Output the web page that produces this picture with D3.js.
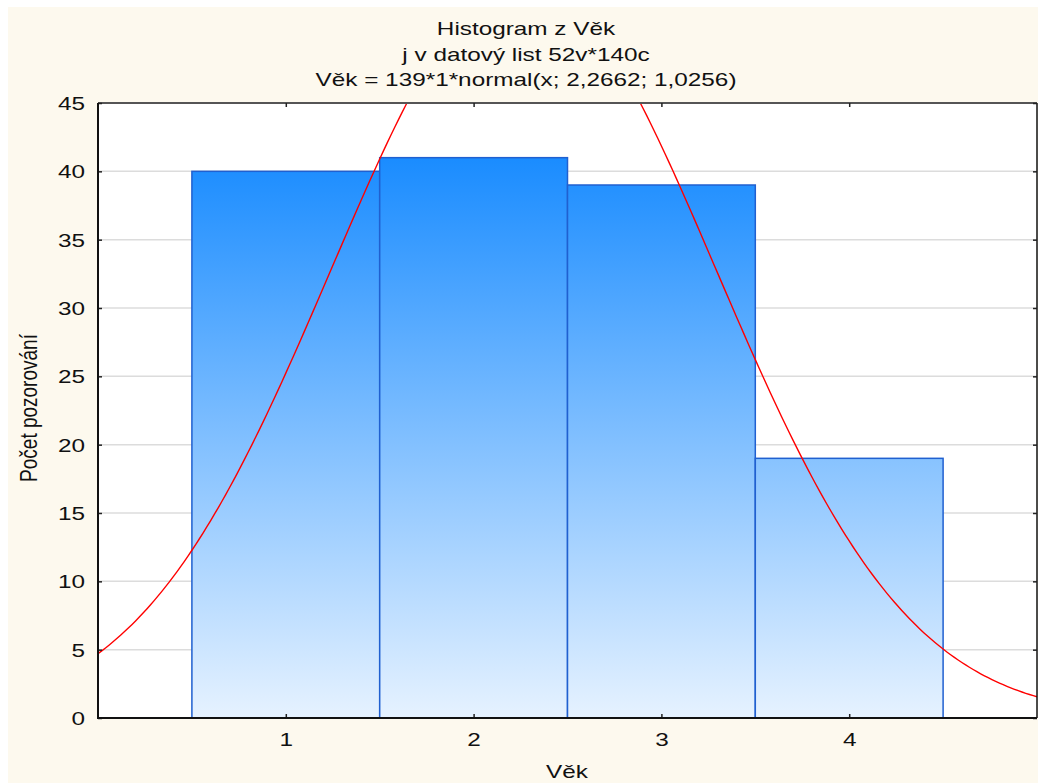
<!DOCTYPE html>
<html><head><meta charset="utf-8">
<script src="https://cdn.jsdelivr.net/npm/d3@7"></script>
<style>
html,body{margin:0;padding:0;background:#fff;}
svg{display:block;}
text{font-family:"Liberation Sans",Arial,sans-serif;fill:#111;}
</style></head>
<body>
<svg id="c" width="1038" height="783"></svg>
<script>
const categories = [1, 2, 3, 4];
const counts = [40, 41, 39, 19];
const xTicks = [1, 2, 3, 4];
const yTicks = [0, 5, 10, 15, 20, 25, 30, 35, 40, 45];
const fitN = 139, fitMean = 2.2662, fitSd = 1.0256;
const titleLines = ["Histogram z Věk", "j v datový list 52v*140c", "Věk = 139*1*normal(x; 2,2662; 1,0256)"];
const xLabel = "Věk", yLabel = "Počet pozorování";

const W = 1038, H = 783;
const L = 98, R = 1037, T = 103, B = 718;
const SX = 1.28, FS = 19;
const svg = d3.select("#c");
const x = d3.scaleLinear().domain([0, 5]).range([L, R]);
const y = d3.scaleLinear().domain([0, 45]).range([B, T]);

svg.append("rect").attr("x", 8).attr("y", 7).attr("width", W - 8).attr("height", H - 7).attr("fill", "#fdf9ee");
svg.append("rect").attr("x", L).attr("y", T).attr("width", R - L).attr("height", B - T).attr("fill", "#fff");

const defs = svg.append("defs");
const g = defs.append("linearGradient").attr("id", "bg").attr("gradientUnits", "userSpaceOnUse")
  .attr("x1", 0).attr("x2", 0).attr("y1", y(41)).attr("y2", y(0));
g.append("stop").attr("offset", 0).attr("stop-color", "#1a8cff");
g.append("stop").attr("offset", 1).attr("stop-color", "#e6f2ff");
defs.append("clipPath").attr("id", "pc").append("rect").attr("x", L).attr("y", T).attr("width", R - L).attr("height", B - T);

// grid
svg.append("g").selectAll("line").data(yTicks.filter(d => d > 0 && d < 45)).join("line")
  .attr("x1", L).attr("x2", R).attr("y1", d => y(d)).attr("y2", d => y(d))
  .attr("stroke", "#dcdcdc").attr("stroke-width", 1.5);

// bars
svg.append("g").selectAll("rect").data(categories).join("rect")
  .attr("x", (d) => x(d - 0.5)).attr("width", x(1.5) - x(0.5))
  .attr("y", (d, i) => y(counts[i])).attr("height", (d, i) => y(0) - y(counts[i]))
  .attr("fill", "url(#bg)").attr("stroke", "#2060d0").attr("stroke-width", 1.5);

// normal fit curve
const pts = d3.range(0, 5.0001, 0.02).map(v => [v, fitN * Math.exp(-0.5 * ((v - fitMean) / fitSd) ** 2) / (fitSd * Math.sqrt(2 * Math.PI))]);
svg.append("path").attr("clip-path", "url(#pc)").datum(pts)
  .attr("d", d3.line().x(d => x(d[0])).y(d => y(d[1])))
  .attr("fill", "none").attr("stroke", "#ff0000").attr("stroke-width", 1.4);

// frame
svg.append("line").attr("x1", L).attr("x2", R).attr("y1", T).attr("y2", T).attr("stroke", "#555").attr("stroke-width", 2);
svg.append("line").attr("x1", R).attr("x2", R).attr("y1", T).attr("y2", B).attr("stroke", "#111").attr("stroke-width", 1.5);

// axes
const yAxis = svg.append("g").attr("transform", `translate(${L},0)`).call(d3.axisLeft(y).tickValues(yTicks).tickSize(-4).tickPadding(12).tickFormat(d3.format("d")));
const xAxis = svg.append("g").attr("transform", `translate(0,${B})`).call(d3.axisBottom(x).tickValues(xTicks).tickSize(-4).tickPadding(14).tickFormat(d3.format("d")));
svg.append("g").attr("transform", `translate(${R},0)`).call(d3.axisRight(y).tickValues(yTicks).tickSize(-4).tickFormat(""));
svg.append("g").attr("transform", `translate(0,${T})`).call(d3.axisTop(x).tickValues(xTicks).tickSize(-4).tickFormat(""));
svg.selectAll(".domain").remove();
svg.selectAll(".tick line").attr("stroke", "#222").attr("stroke-width", 1.5);
svg.append("line").attr("x1", L).attr("x2", L).attr("y1", T).attr("y2", B + 1).attr("stroke", "#111").attr("stroke-width", 2);
svg.append("line").attr("x1", L - 1).attr("x2", R).attr("y1", B).attr("y2", B).attr("stroke", "#111").attr("stroke-width", 2);

yAxis.selectAll(".tick text").each(function () {
  const t = d3.select(this);
  const ty = d3.select(this.parentNode).attr("transform");
  t.attr("font-size", FS).attr("font-family", "Liberation Sans, Arial, sans-serif").attr("fill", "#111")
    .attr("x", null).attr("dy", "0.35em").attr("text-anchor", "end")
    .attr("transform", `translate(-13,0) scale(${SX},1)`);
});
xAxis.selectAll(".tick text").attr("font-size", FS).attr("font-family", "Liberation Sans, Arial, sans-serif").attr("fill", "#111")
  .attr("y", null).attr("dy", "0.35em").attr("transform", `translate(0,21) scale(${SX},1)`);

// titles
const tb = [35, 60.5, 86];
titleLines.forEach((s, i) => {
  svg.append("text").attr("transform", `translate(526,${tb[i]}) scale(${SX},1)`)
    .attr("text-anchor", "middle").attr("font-size", FS).text(s);
});
svg.append("text").attr("transform", `translate(567,778) scale(${SX},1)`).attr("text-anchor", "middle").attr("font-size", FS).text(xLabel);
svg.append("text").attr("transform", `translate(37,408) scale(${SX},1) rotate(-90)`).attr("text-anchor", "middle").attr("font-size", FS).text(yLabel);
</script>
</body></html>
